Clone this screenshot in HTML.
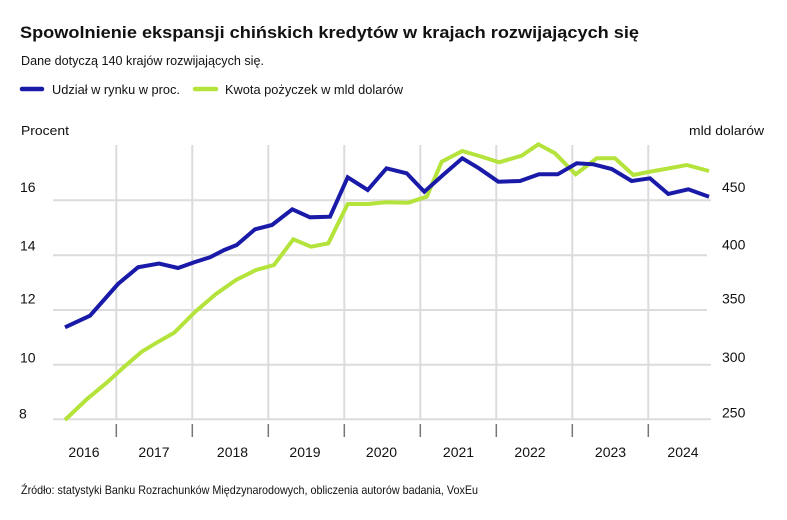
<!DOCTYPE html>
<html><head><meta charset="utf-8">
<style>
html,body{margin:0;padding:0;background:#fff;}
svg{display:block;}
text{font-family:"Liberation Sans",sans-serif;fill:#111;}
</style></head>
<body>
<svg width="787" height="520" viewBox="0 0 787 520" xmlns="http://www.w3.org/2000/svg">
<rect width="787" height="520" fill="#fff"/>
<text x="20" y="38" font-size="17" font-weight="bold" textLength="619" lengthAdjust="spacingAndGlyphs">Spowolnienie ekspansji chińskich kredytów w krajach rozwijających się</text>
<text x="21" y="65" font-size="13" textLength="243" lengthAdjust="spacingAndGlyphs">Dane dotyczą 140 krajów rozwijających się.</text>
<line x1="22" y1="89" x2="42" y2="89" stroke="#1a1aa8" stroke-width="4.5" stroke-linecap="round"/>
<text x="52" y="94" font-size="13" textLength="128" lengthAdjust="spacingAndGlyphs">Udział w rynku w proc.</text>
<line x1="195" y1="89" x2="216" y2="89" stroke="#b4e33c" stroke-width="4.5" stroke-linecap="round"/>
<text x="225" y="94" font-size="13" textLength="178" lengthAdjust="spacingAndGlyphs">Kwota pożyczek w mld dolarów</text>
<text x="21" y="135" font-size="13" textLength="48" lengthAdjust="spacingAndGlyphs">Procent</text>
<text x="689" y="135" font-size="13" textLength="75" lengthAdjust="spacingAndGlyphs">mld dolarów</text>
<g stroke="#dcdcdc" stroke-width="2">
<line x1="116.3" y1="145" x2="116.3" y2="419"/>
<line x1="192.3" y1="145" x2="192.3" y2="419"/>
<line x1="268.3" y1="145" x2="268.3" y2="419"/>
<line x1="344.3" y1="145" x2="344.3" y2="419"/>
<line x1="420.3" y1="145" x2="420.3" y2="419"/>
<line x1="496.3" y1="145" x2="496.3" y2="419"/>
<line x1="572.3" y1="145" x2="572.3" y2="419"/>
<line x1="648.3" y1="145" x2="648.3" y2="419"/>
<line x1="53" y1="200.3" x2="711" y2="200.3"/>
<line x1="53" y1="255.3" x2="707" y2="255.3"/>
<line x1="53" y1="310" x2="707" y2="310"/>
<line x1="53" y1="364.7" x2="711" y2="364.7"/>
<line x1="53" y1="419.3" x2="711" y2="419.3"/>
</g>
<g stroke="#777" stroke-width="1.5">
<line x1="116.3" y1="424" x2="116.3" y2="437"/>
<line x1="192.3" y1="424" x2="192.3" y2="437"/>
<line x1="268.3" y1="424" x2="268.3" y2="437"/>
<line x1="344.3" y1="424" x2="344.3" y2="437"/>
<line x1="420.3" y1="424" x2="420.3" y2="437"/>
<line x1="496.3" y1="424" x2="496.3" y2="437"/>
<line x1="572.3" y1="424" x2="572.3" y2="437"/>
<line x1="648.3" y1="424" x2="648.3" y2="437"/>
</g>
<g font-size="14">
<text x="20" y="192">16</text>
<text x="20" y="250.7">14</text>
<text x="20" y="303.3">12</text>
<text x="20" y="362.7">10</text>
<text x="19" y="418.3">8</text>
<text x="722" y="192">450</text>
<text x="722" y="249.5">400</text>
<text x="722" y="303.3">350</text>
<text x="722" y="362">300</text>
<text x="722" y="417.5">250</text>
</g>
<g font-size="14" text-anchor="middle">
<text x="84" y="457">2016</text>
<text x="154" y="457">2017</text>
<text x="232.5" y="457">2018</text>
<text x="305" y="457">2019</text>
<text x="381.5" y="457">2020</text>
<text x="458.5" y="457">2021</text>
<text x="530" y="457">2022</text>
<text x="610.5" y="457">2023</text>
<text x="683" y="457">2024</text>
</g>
<polyline fill="none" stroke="#b4e33c" stroke-width="4" stroke-linejoin="miter" points="65,420 86.7,399.3 106.7,382.7 124,367 141.7,351.7 158.3,341.7 174.3,332.7 195,312 216,294 236,280 256,270 274,265 293.3,239.3 311,246.7 328.3,243.3 347.7,204 368.3,204 385,202.3 408.3,202.7 426.7,196.7 441.7,161.7 462.3,151 481,156.5 499,162.3 521.7,155.7 538.3,144.3 555,153.3 575.7,174.3 596.7,158.3 615,158.3 633.3,175 650,171.7 668,168.5 686.7,165 709,171"/>
<polyline fill="none" stroke="#1a1aa8" stroke-width="4" stroke-linejoin="miter" points="65,327.3 90,315.7 118,284 138,267.3 159,263.5 178,268 195,262 210,257.3 224.3,250 236.7,245 255,229.3 272,225 292.3,209.3 310,217.3 330,216.7 347.7,177.3 367.7,190 386.5,168.3 406.7,173.3 424.3,191.7 443,175 462.3,158.3 479,168.3 498.3,181.7 520,181 539,174.3 557.7,174.3 576.7,163.3 593.3,164.3 611.7,169 631.7,181 650,178.3 668.3,194 688.3,189.3 709,196.7"/>
<text x="21" y="494" font-size="12" textLength="457" lengthAdjust="spacingAndGlyphs">Źródło: statystyki Banku Rozrachunków Międzynarodowych, obliczenia autorów badania, VoxEu</text>
</svg>
</body></html>
